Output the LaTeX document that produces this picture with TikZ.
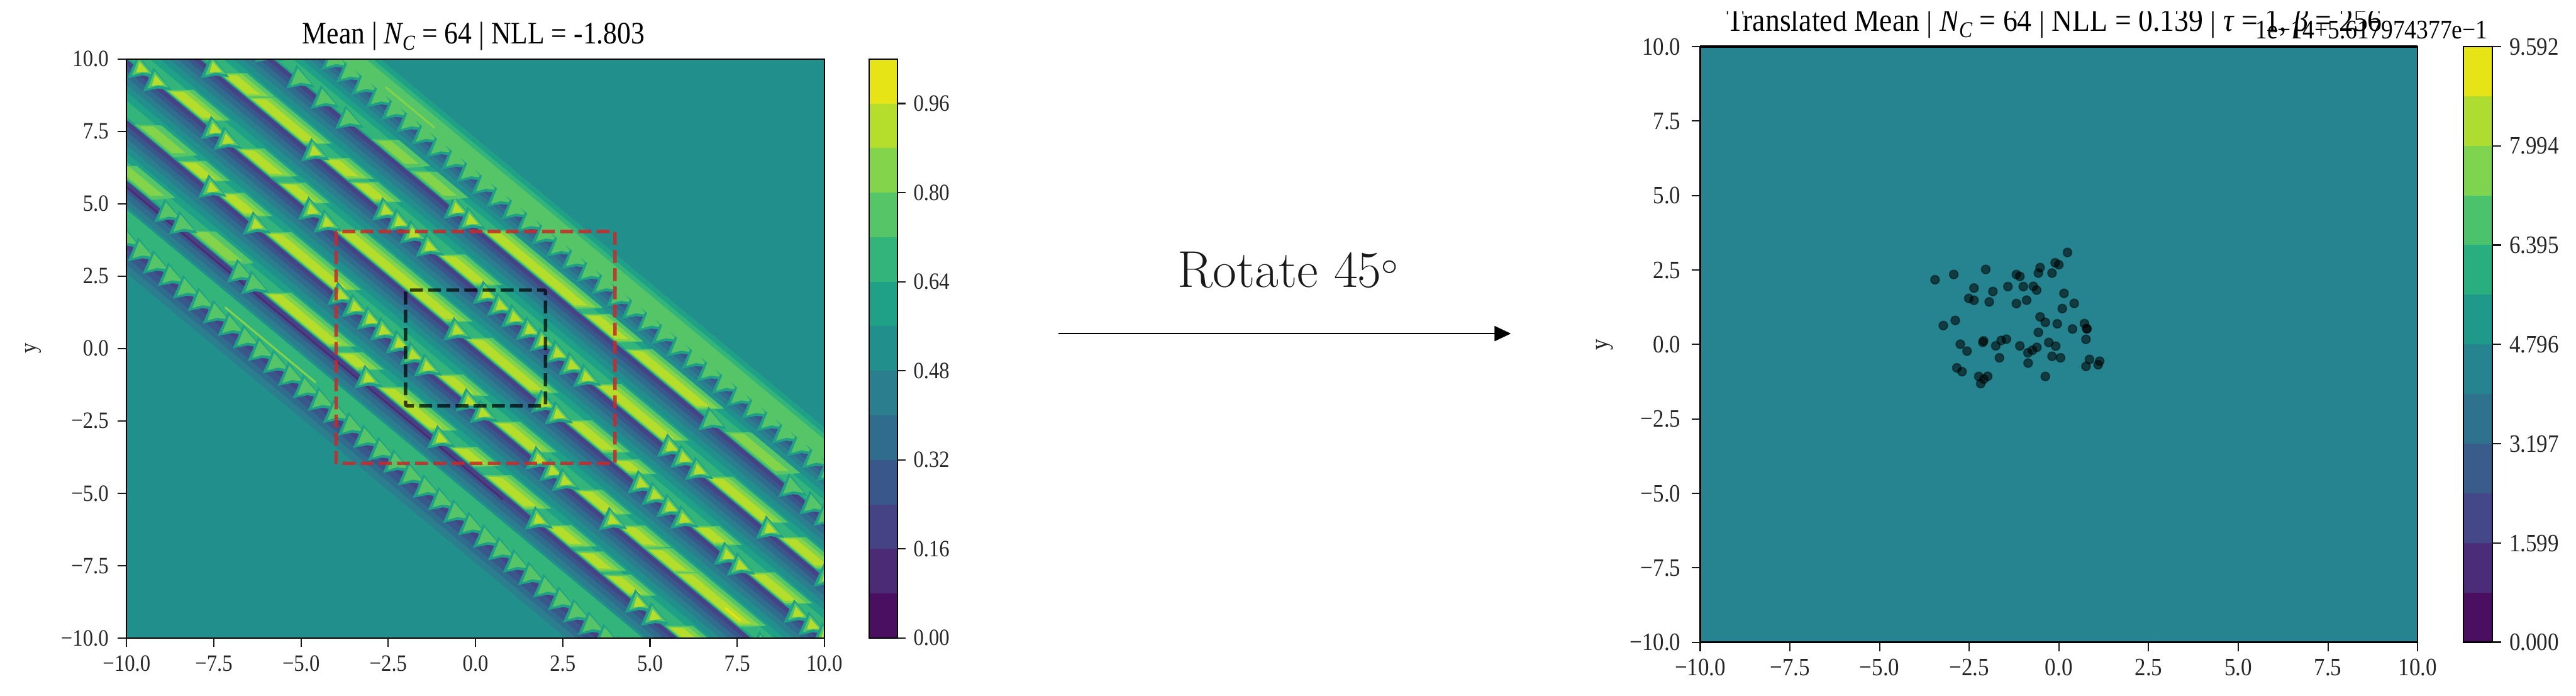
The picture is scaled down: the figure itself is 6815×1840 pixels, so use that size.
\documentclass[tikz,border=0pt]{standalone}
\usepackage{fontspec}
\usepackage{xcolor}
\usepackage{tikz}
\usetikzlibrary{arrows.meta}
\newfontfamily\ser[FakeStretch=0.88]{Liberation Serif}
\definecolor{lev0}{HTML}{4A0F60}
\definecolor{lev1}{HTML}{4B2A76}
\definecolor{lev2}{HTML}{454386}
\definecolor{lev3}{HTML}{3A578B}
\definecolor{lev4}{HTML}{306C8D}
\definecolor{lev5}{HTML}{2A7E8E}
\definecolor{lev6}{HTML}{21908D}
\definecolor{lev7}{HTML}{1FA187}
\definecolor{lev8}{HTML}{32B47B}
\definecolor{lev9}{HTML}{55C568}
\definecolor{lev10}{HTML}{84D44B}
\definecolor{lev11}{HTML}{B5DD2B}
\definecolor{lev12}{HTML}{E6E317}
\definecolor{rv0}{HTML}{4A0F60}
\definecolor{rv1}{HTML}{4B2C78}
\definecolor{rv2}{HTML}{444788}
\definecolor{rv3}{HTML}{395C8B}
\definecolor{rv4}{HTML}{2E728E}
\definecolor{rv5}{HTML}{25848F}
\definecolor{rv6}{HTML}{1F998A}
\definecolor{rv7}{HTML}{29AF7F}
\definecolor{rv8}{HTML}{4BC26C}
\definecolor{rv9}{HTML}{7ED34F}
\definecolor{rv10}{HTML}{AEDC30}
\definecolor{rv11}{HTML}{E6E317}
\definecolor{boxr}{RGB}{205,40,40}
\tikzset{
  ticklab/.style={font=\ser\fontsize{17.6}{20}\selectfont, inner sep=0pt, text=black!85},
  tickrb/.style={font=\ser\fontsize{18.8}{20}\selectfont, inner sep=0pt, text=black!85},
  titlab/.style={font=\ser\fontsize{23.5}{26}\selectfont, inner sep=0pt, anchor=base},
  titrb/.style={font=\ser\fontsize{24.6}{28}\selectfont, inner sep=0pt, anchor=base},
  frm/.style={draw=black, line width=0.035cm},
  tk/.style={draw=black!90, line width=0.035cm},
  boxred/.style={draw=boxr, opacity=0.85, line width=0.09cm, dash pattern=on 0.34cm off 0.14cm, rounded corners=0.04cm},
  boxblk/.style={draw=black, opacity=0.7, line width=0.09cm, dash pattern=on 0.34cm off 0.14cm, rounded corners=0.04cm},
  pt/.style={fill=black, draw=black, fill opacity=0.55, draw opacity=0.4, line width=0.03cm},
  tu/.style={x={(0.923cm,-0.7655cm)}, y={(0.4615cm,0.38275cm)}}
}
% stripes are written as (t,u): t runs along a stripe, u across it
\newcommand{\band}[3]{\fill[fill=lev#1] (-25,#2) -- (25,#2) -- (25,#3) -- (-25,#3) -- cycle;}
\newcommand{\ramp}[2]{\foreach \lv/\o in {7/0,8/.1,7/.66,6/.95,5/1.22,4/1.46,3/1.7,2/1.9}{\band{\lv}{#1+\o*#2}{#1+2.2}}}
\newcommand{\tooth}[2]{\begin{scope}[shift={(#2,#1+.15)}]
  \fill[lev7] (-.26,.32) -- (0,-.8) -- (.16,-.28) -- (.39,.06) -- cycle;
  \fill[lev9] (-.185,.23) -- (.015,-.57) -- (.11,-.18) -- (.295,.07) -- cycle;
  \fill[lev11] (-.11,.12) -- (.025,-.35) -- (.185,.03) -- cycle;
\end{scope}}
\newcommand{\dimtooth}[2]{\begin{scope}[shift={(#2,#1+.15)}]
  \fill[lev7] (-.26,.32) -- (0,-.8) -- (.16,-.28) -- (.39,.06) -- cycle;
  \fill[lev9] (-.185,.23) -- (.015,-.57) -- (.11,-.18) -- (.295,.07) -- cycle;
\end{scope}}
\newcommand{\lng}[3]{%
  \fill[lev9] (#2-.1,#1+.06) -- (#3+.1,#1+.06) -- (#3+.45,#1+.85) -- (#2+.3,#1+.85) -- cycle;
  \fill[lev10] (#2-.05,#1+.08) -- (#3+.05,#1+.08) -- (#3+.35,#1+.68) -- (#2+.25,#1+.68) -- cycle;
  \fill[lev11] (#2,#1+.14) -- (#3,#1+.14) -- (#3+.2,#1+.5) -- (#2+.2,#1+.5) -- cycle;}
\newcommand{\dimlng}[3]{%
  \fill[lev9] (#2-.1,#1+.06) -- (#3+.1,#1+.06) -- (#3+.4,#1+.8) -- (#2+.3,#1+.8) -- cycle;
  \fill[lev10] (#2,#1+.15) -- (#3,#1+.15) -- (#3+.2,#1+.55) -- (#2+.2,#1+.55) -- cycle;}
\newcommand{\thinl}[4]{\draw[#1, line width=0.05cm] (#3,#2) -- (#4,#2);}
\newcommand{\stripe}[4]{\ramp{#1}{#2}%
  \foreach \a/\b in {#3}{\lng{#1}{\a}{\b}}%
  \foreach \t in {#4}{\tooth{#1}{\t}}}
\newcommand{\nc}[1]{\textit{N}\kern-.04em\raisebox{-.2em}{\fontsize{#1}{#1}\selectfont\textit{C}}}

\begin{document}
\begin{tikzpicture}[x=0.01cm, y=-0.01cm]
  \useasboundingbox (0,0) rectangle (6815,1840);

  % Left contour plot
  \begin{scope}
    \clip (335,156) rectangle (2181,1687);
    \fill[lev6] (335,156) rectangle (2181,1687);
    \begin{scope}[shift={(1258,921.5)}, tu]
      % lower fringe
      \foreach \lv/\o in {5/-7.4,4/-7.1,3/-6.85,2/-6.55}{\band{\lv}{\o}{-6}}
      % u = -6.3
      \ramp{-6.3}{1}
      \band{8}{-6.2}{-5.2}
      \foreach \t in {-9.5,-9.07,...,9.8}{\dimtooth{-6.3}{\t}}
      \thinl{lev10}{-5.75}{-4.3}{-1.7}
      \thinl{lev1}{-4.42}{-8}{3}
      % u = -4.2
      \stripe{-4.2}{1}{-3.9/-2.2,-1.85/-1.4,-.65/.7,1.42/1.93,2.4/3.4,4.12/4.7,5.03/5.55,5.83/6.4,7.6/8.1}{-1.05,1.03,3.83,6.7,7.15,8.5,8.9}
      \foreach \a/\b in {-9.8/-9,-8.3/-7.3,-6.04/-5.05}{\dimlng{-4.2}{\a}{\b}}
      \foreach \t in {-8.7,-6.78,-6.36,-4.7,-4.3}{\dimtooth{-4.2}{\t}}
      % u = -2.1
      \stripe{-2.1}{1}{-7.4/-6.86,-6.3/-5.65,-4.94/-3.1,-.03/.55,1.6/2.5,3.95/4.64,5.18/5.78,5.97/6.67,6.8/8.5}{-6.57,-5.3,-2.87,-2.46,-2.03,-1.65,-1.2,-.8,-.4,.8,1.2,2.8,3.2,3.55,4.9,9.2,9.6}
      \dimlng{-2.1}{-8.65}{-7.72}
      \thinl{lev12}{-1.8}{8.05}{8.5}
      % u = 0
      \stripe{0}{1}{-8.8/-7.9,-6.78/-5.97,-5.6/-5.05,-3.97/-.96,-.24/1.5,2.6/3.55,3.95/4.3,6.25/6.75,7.85/8.77}{-9.65,-9.2,-7.55,-7.18,-4.76,-4.32,-.6,1.9,2.3,4.68,5.08,5.5,5.9,7.15,7.52,9.15,9.57,9.95}
      % u = 2.1
      \stripe{2.1}{1}{-8.33/-7.67,-7.5/-6.05,-5.4/-4.84,-4.58/-4.04,-2.07/-1.17,2.4/4.2,5.6/7.03,7.68/8.6}{-8.6,-5.73,-3.69,-3.3,-2.9,-2.44,-.81,-.4,0,.43,.82,1.24,1.65,2.06,4.47,4.85,5.27,7.3,8.95,9.3}
      % u = 4.2, weaker towards the top
      \stripe{4.2}{.85}{-1.85/.67,1.03/1.83,2.25/4.15}{-2.7,-2.3}
      \foreach \a/\b in {-5/-4.2,-3.9/-3.1,5.1/6.4}{\dimlng{4.2}{\a}{\b}}
      \foreach \t in {-9.2,-8.1,-7.2,-6.5,-5.8,4.6,6.9,7.5,7.9}{\dimtooth{4.2}{\t}}
      % u = 5.9, outer edge
      \foreach \lv/\o in {7/5.9,9/6.05,8/6.85,7/7.05}{\band{\lv}{\o}{7.25}}
      \foreach \t in {-9.6,-9.17,...,9.8}{\dimtooth{5.85}{\t}}
      \band{9}{6.15}{6.85}
      \thinl{lev10}{6.45}{-5.8}{-4.4}
    \end{scope}
  \end{scope}
  \draw[boxred] (889,612) rectangle (1627,1225);
  \draw[boxblk] (1073,767) rectangle (1443,1073);
  \draw[frm] (335,156) rectangle (2181,1687);

  % Left axis ticks and labels
  \foreach \i/\lab in {0/−10.0,1/−7.5,2/−5.0,3/−2.5,4/0.0,5/2.5,6/5.0,7/7.5,8/10.0}{
    \draw[tk] ({335+\i*230.75},1687) -- ({335+\i*230.75},1711);
    \node[ticklab, anchor=base] (lx\i) at ({335+\i*230.75},1774) {\lab};
  }
  \foreach \i/\lab in {0/10.0,1/7.5,2/5.0,3/2.5,4/0.0,5/−2.5,6/−5.0,7/−7.5,8/−10.0}{
    \draw[tk] (311,{156+\i*191.4}) -- (335,{156+\i*191.4});
    \node[ticklab, anchor=base east] (ly\i) at (288,{176+\i*191.4}) {\lab};
  }
  \node[ticklab, rotate=90] (lyname) at (88,921) {y};
  \node[titlab] (ltitle) at (1253,115) {Mean | \nc{16} = 64 | NLL = -1.803};

  % Left colorbar
  \foreach \i in {0,...,12}{
    \fill[fill=lev\i] (2299,{1687-\i*117.77}) rectangle (2374,{1687-(\i+1)*117.77});
  }
  \draw[frm] (2299,156) rectangle (2374,1687);
  \foreach \i/\lab in {0/0.00,1/0.16,2/0.32,3/0.48,4/0.64,5/0.80,6/0.96}{
    \draw[tk] (2374,{1687-\i*235.54}) -- (2396,{1687-\i*235.54});
    \node[ticklab, anchor=base west] (lc\i) at (2416,{1707-\i*235.54}) {\lab};
  }

  % Arrow
  \coordinate (arrL) at (2800,882);
  \coordinate (arrR) at (3997,882);
  \draw[-{Triangle[length=0.43cm,width=0.4cm]}, line width=0.03cm, black] (arrL) -- (arrR);
  \node[font=\fontsize{39}{42}\selectfont, inner sep=0pt, anchor=base, text=black!90] (rotlab) at (3408,759) {Rotate 45$^\circ$};

  % Right plot
  \fill[rv5] (4498,123) rectangle (6396,1698);
  \begin{scope}[shift={(4900,550)}, x=0.005102cm, y=-0.00333cm]
    \foreach \a/\b in {1117/353,1053/435,1072/450,975/473,966/517,1037/517,693/488,527/528,430/570,852/528,870/543,632/636,730/663,808/624,888/624,940/622,957/652,1099/678,605/718,632/733,711/746,852/759,905/732,1152/758,1090/799,975/865,1002/908,535/893,473/934,1064/920,1205/918,1218/960,1217/958,1143/961,966/988,1213/1043,561/1082,596/1137,682/1055,678/1067,800/1042,773/1052,745/1095,870/1096,958/1107,935/1130,912/1150,1020/1068,1056/1097,1037/1178,1081/1190,764/1190,913/1232,1231/1203,1213/1258,1284/1217,1276/1245,543/1270,570/1300,657/1338,703/1337,683/1360,667/1395,1002/1338}{
      \path[pt] (\a,\b) circle[radius=0.115cm];
    }
  \end{scope}
  \draw[frm] (4498,123) rectangle (6396,1698);
  \draw[black, line width=0.06cm] (4498,123) -- (6396,123);

  % Right axis ticks and labels
  \foreach \i/\lab in {0/−10.0,1/−7.5,2/−5.0,3/−2.5,4/0.0,5/2.5,6/5.0,7/7.5,8/10.0}{
    \draw[tk] ({4498+\i*237.25},1698) -- ({4498+\i*237.25},1722);
    \node[tickrb, anchor=base] (rx\i) at ({4498+\i*237.25},1786) {\lab};
  }
  \foreach \i/\lab in {0/10.0,1/7.5,2/5.0,3/2.5,4/0.0,5/−2.5,6/−5.0,7/−7.5,8/−10.0}{
    \draw[tk] (4475,{123+\i*196.9}) -- (4498,{123+\i*196.9});
    \node[tickrb, anchor=base east] (ry\i) at (4447,{145+\i*196.9}) {\lab};
  }
  \node[tickrb, rotate=90] (ryname) at (4245,911) {y};
  \node[titrb] (rtitle) at (5435,82) {Translated Mean | \nc{17} = 64 | NLL = 0.139 | \textit{τ} = 1, \textit{β} = 256};
  \fill[white] (4400,0) rectangle (6500,30);
  \node[font=\ser\fontsize{20.2}{22}\selectfont, inner sep=0pt, anchor=base east] (roffset) at (6582,103) {1e−14+5.617974377e−1};

  % Right colorbar
  \foreach \i in {0,...,11}{
    \fill[fill=rv\i] (6517,{1698-\i*131.25}) rectangle (6594,{1698-(\i+1)*131.25});
  }
  \draw[frm] (6517,123) rectangle (6594,1698);
  \foreach \i/\lab in {0/0.000,1/1.599,2/3.197,3/4.796,4/6.395,5/7.994,6/9.592}{
    \draw[tk] (6594,{1698-\i*262.5}) -- (6617,{1698-\i*262.5});
    \node[tickrb, anchor=base west] (rc\i) at (6638,{1720-\i*262.5}) {\lab};
  }
\end{tikzpicture}
\end{document}
